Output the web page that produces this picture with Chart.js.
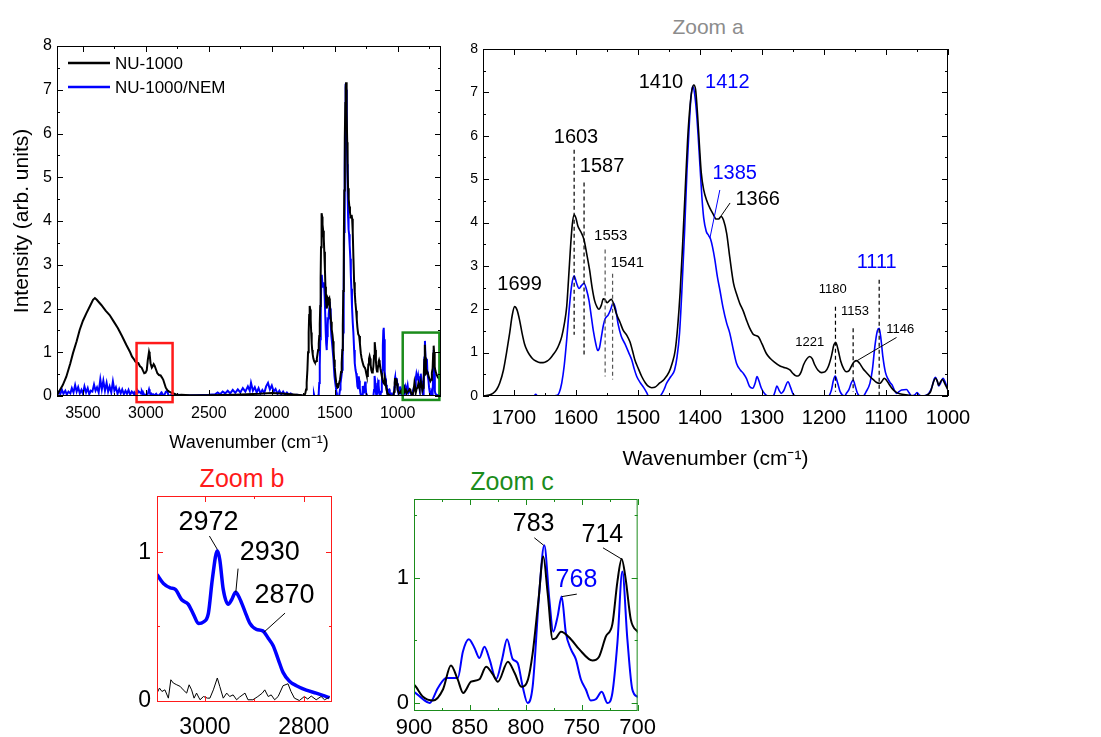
<!DOCTYPE html>
<html>
<head>
<meta charset="utf-8">
<script src="https://cdn.jsdelivr.net/npm/chart.js@4.4.1/dist/chart.umd.min.js"></script>
<style>
  body { margin: 0; background: #fff; width: 1101px; height: 737px; overflow: hidden; position: relative; font-family: "Liberation Sans", Arial, sans-serif; }
  canvas { position: absolute; }
  .ttl { position: absolute; transform: translate(-50%, -50%); white-space: nowrap; }
</style>
</head>
<body>
<div class="ttl" style="left:708px;top:27px;font-size:21px;color:#8c8c8c">Zoom a</div>
<div class="ttl" style="left:242px;top:478px;font-size:25px;color:#ff1a1a">Zoom b</div>
<div class="ttl" style="left:512px;top:481px;font-size:25px;color:#1b8c1b">Zoom c</div>
<canvas id="main" width="455" height="460" style="left:0;top:0"></canvas>
<canvas id="zoomA" width="646" height="480" style="left:455px;top:0"></canvas>
<canvas id="zoomB" width="250" height="267" style="left:100px;top:470px"></canvas>
<canvas id="zoomC" width="300" height="267" style="left:360px;top:470px"></canvas>
<script>
const FONT = '"Liberation Sans", Arial, sans-serif';

// ---- spectra, [wavenumber, intensity] ----
// NU-1000, 3710-3100 (broad O-H band)
const hiBlack = [[3708,0],[3698,0.06],[3660,0.25],[3632,0.44],[3600,0.75],[3579,0.98],[3550,1.25],[3526,1.51],[3500,1.72],[3473,1.89],[3440,2.08],[3420,2.2],[3405,2.24],[3390,2.2],[3354,2.08],[3320,1.95],[3288,1.85],[3255,1.7],[3222,1.55],[3190,1.37],[3156,1.17],[3125,1.0],[3110,0.9]];
// NU-1000/NEM, 3710-3100 (noise)
const hiBlue = [[3705,0.02],[3690,0.1],[3680,0.04],[3668,0.15],[3655,0.05],[3640,0.12],[3628,0.03],[3615,0.1],[3600,0.06],[3588,0.18],[3575,0.08],[3562,0.25],[3550,0.1],[3538,0.2],[3525,0.06],[3512,0.14],[3500,0.05],[3488,0.22],[3475,0.08],[3462,0.18],[3450,0.04],[3438,0.12],[3425,0.1],[3412,0.26],[3400,0.12],[3388,0.2],[3375,0.08],[3362,0.38],[3350,0.15],[3338,0.35],[3325,0.12],[3312,0.3],[3300,0.1],[3288,0.22],[3275,0.08],[3262,0.33],[3250,0.12],[3238,0.2],[3225,0.05],[3212,0.16],[3200,0.06],[3188,0.15],[3175,0.04],[3162,0.12],[3150,0.05],[3138,0.14],[3125,0.03],[3112,0.1]];

// Zoom b, 3100-2745 (thick blue and thin black as drawn in the inset)
const bBlue = [[3097,0.85],[3084,0.79],[3070,0.76],[3060,0.75],[3047,0.68],[3034,0.65],[3023,0.58],[3013,0.52],[3003,0.53],[2993,0.59],[2985,0.82],[2975,1.01],[2970,0.95],[2963,0.75],[2953,0.65],[2946,0.68],[2938,0.73],[2930,0.69],[2919,0.6],[2909,0.52],[2896,0.48],[2883,0.47],[2872,0.42],[2862,0.37],[2852,0.28],[2842,0.19],[2829,0.13],[2815,0.1],[2795,0.07],[2775,0.05],[2748,0.02]];
const bBlack = [[3097,0.05],[3092,0.084],[3087,0.061],[3081,0.072],[3074,0.016],[3069,0.14],[3064,0.118],[3057,0.106],[3050,0.095],[3044,0.072],[3037,0.05],[3032,0.106],[3027,0.072],[3022,0.016],[3017,0.05],[3010,0.005],[3003,0.027],[2995,0.016],[2990,0.016],[2983,0.072],[2975,0.152],[2970,0.095],[2963,0.016],[2956,0.05],[2950,0.027],[2943,0.038],[2936,0.005],[2930,0.023],[2919,0.05],[2913,0.005],[2903,0.005],[2893,0.027],[2884,0.05],[2879,0.072],[2872,0.027],[2866,0.038],[2859,0.005],[2852,0.027],[2842,0.1],[2832,0.113],[2826,0.061],[2819,0.016],[2809,0],[2799,0.027],[2792,0.01],[2785,0.03],[2775,0.005],[2765,0.027],[2758,0.005],[2748,0.023]];

// 2740-1750
const midBlack = [[2720,0.03],[2650,0.02],[2500,0.02],[2300,0.03],[2100,0.05],[2000,0.07],[1900,0.05],[1800,0.03],[1760,0.02]];
const midBlue = [[2740,0.03],[2700,0.01],[2600,0.02],[2500,0.03],[2450,0.04],[2430,0.08],[2410,0.04],[2390,0.1],[2370,0.06],[2350,0.12],[2330,0.06],[2310,0.14],[2290,0.07],[2270,0.15],[2250,0.08],[2230,0.18],[2210,0.1],[2190,0.22],[2175,0.12],[2165,0.3],[2150,0.12],[2135,0.2],[2120,0.08],[2105,0.18],[2090,0.06],[2075,0.14],[2060,0.07],[2045,0.22],[2030,0.3],[2015,0.15],[2000,0.24],[1985,0.1],[1970,0.16],[1955,0.05],[1940,0.12],[1925,0.04],[1910,0.1],[1895,0.03],[1880,0.08],[1865,0.03],[1850,0.06],[1830,0.02],[1800,0.03],[1770,0.01]];

// Zoom a, 1750-1000
const aBlack = [[1750,0],[1740,0.02],[1734,0.06],[1728,0.15],[1723,0.3],[1717,0.6],[1712,1.0],[1707,1.45],[1703,1.85],[1699,2.06],[1695,1.98],[1691,1.75],[1687,1.45],[1683,1.2],[1679,1.05],[1675,0.95],[1670,0.86],[1664,0.8],[1658,0.77],[1653,0.77],[1647,0.8],[1642,0.86],[1637,0.95],[1632,1.05],[1627,1.2],[1623,1.37],[1619,1.65],[1615,2.06],[1612,2.7],[1609,3.4],[1606,3.95],[1603,4.18],[1600,4.1],[1597,3.92],[1592,3.78],[1587,3.6],[1583,3.3],[1578,2.9],[1574,2.5],[1570,2.2],[1566,2.05],[1563,2.0],[1559,2.1],[1556,2.24],[1553,2.22],[1550,2.15],[1546,2.2],[1543,2.23],[1539,2.1],[1535,1.9],[1529,1.7],[1524,1.52],[1518,1.4],[1513,1.25],[1509,1.05],[1505,0.83],[1500,0.65],[1494,0.45],[1488,0.3],[1483,0.22],[1478,0.19],[1473,0.2],[1465,0.3],[1458,0.38],[1450,0.55],[1445,0.75],[1440,1.05],[1436,1.6],[1432,2.4],[1428,3.5],[1424,4.7],[1420,5.9],[1416,6.7],[1413,7.05],[1410,7.17],[1407,7.05],[1404,6.5],[1401,5.8],[1398,5.15],[1394,4.75],[1389,4.5],[1384,4.33],[1379,4.2],[1374,4.08],[1370,4.08],[1366,4.14],[1362,4.05],[1357,3.75],[1352,3.2],[1346,2.6],[1341,2.35],[1336,2.14],[1330,1.95],[1325,1.75],[1320,1.57],[1314,1.42],[1306,1.37],[1300,1.2],[1293,0.98],[1287,0.87],[1280,0.78],[1271,0.69],[1265,0.66],[1260,0.64],[1255,0.6],[1250,0.52],[1246,0.47],[1242,0.46],[1237,0.55],[1233,0.72],[1228,0.85],[1223,0.91],[1219,0.86],[1215,0.72],[1210,0.6],[1204,0.54],[1198,0.56],[1193,0.68],[1188,0.92],[1184,1.18],[1181,1.23],[1177,1.05],[1173,0.8],[1168,0.62],[1164,0.56],[1160,0.58],[1156,0.68],[1152,0.78],[1148,0.82],[1143,0.76],[1137,0.63],[1131,0.53],[1126,0.45],[1120,0.37],[1115,0.31],[1110,0.29],[1106,0.35],[1103,0.41],[1099,0.36],[1095,0.27],[1090,0.17],[1085,0.1],[1078,0.05],[1065,0.02],[1050,0],[1040,0],[1034,0.02],[1028,0.1],[1024,0.3],[1020,0.41],[1017,0.33],[1015,0.25],[1012,0.33],[1009,0.38],[1005,0.28],[1000,0.14]];
const aBlue = [[1750,0],[1700,0],[1668,0],[1665,0.04],[1662,0],[1640,0],[1630,0.02],[1627,0.08],[1623,0.3],[1619,0.7],[1615,1.3],[1611,2.0],[1607,2.55],[1603,2.77],[1599,2.6],[1595,2.48],[1591,2.55],[1587,2.6],[1583,2.45],[1579,2.2],[1575,1.8],[1572,1.5],[1568,1.2],[1565,1.05],[1562,1.12],[1559,1.37],[1556,1.62],[1553,1.78],[1548,1.87],[1544,2.0],[1540,2.15],[1536,2.0],[1532,1.65],[1527,1.38],[1521,1.2],[1515,1.0],[1510,0.83],[1506,0.62],[1502,0.45],[1496,0.3],[1491,0.2],[1486,0.08],[1483,0],[1465,0],[1458,0.15],[1454,0.29],[1447,0.45],[1441,0.6],[1437,0.9],[1433,1.45],[1429,2.5],[1425,3.75],[1421,5.2],[1418,6.06],[1415,6.8],[1412,7.14],[1409,7.0],[1406,6.6],[1403,6.0],[1400,5.3],[1397,4.6],[1394,4.1],[1390,3.8],[1386,3.7],[1383,3.62],[1380,3.45],[1376,3.14],[1372,2.75],[1368,2.45],[1363,2.05],[1357,1.68],[1352,1.45],[1346,1.05],[1341,0.75],[1335,0.6],[1330,0.52],[1325,0.4],[1320,0.22],[1315,0.18],[1311,0.3],[1308,0.45],[1305,0.35],[1301,0.18],[1296,0.06],[1290,0],[1282,0],[1279,0.1],[1276,0.23],[1272,0.12],[1269,0.06],[1265,0.12],[1258,0.33],[1254,0.2],[1250,0.05],[1245,0],[1193,0],[1188,0.14],[1185,0.35],[1182,0.46],[1178,0.3],[1174,0.1],[1170,0.02],[1167,0],[1163,0.08],[1160,0.14],[1156,0.3],[1153,0.37],[1150,0.25],[1146,0.06],[1142,0],[1137,0],[1132,0.1],[1126,0.29],[1122,0.6],[1118,1.14],[1114,1.5],[1111,1.56],[1108,1.3],[1105,0.9],[1101,0.55],[1097,0.4],[1093,0.3],[1090,0.25],[1086,0.12],[1083,0.06],[1079,0.1],[1075,0.14],[1067,0.15],[1063,0.08],[1059,0],[1053,0.03],[1050,0.08],[1046,0.02],[1042,0],[1035,0.02],[1031,0.06],[1026,0.2],[1022,0.4],[1020,0.43],[1017,0.33],[1015,0.23],[1012,0.3],[1008,0.41],[1004,0.3],[1000,0.14]];

// 1000-660 (Zoom c region)
const lowBlack = [[995,0.1],[988,0.06],[980,0.08],[972,0.12],[965,0.06],[958,0.15],[950,0.2],[943,0.1],[935,0.14],[928,0.06],[920,0.1],[912,0.12],[905,0.16],[900,0.147],[892,0.05],[883,0.02],[874,0.11],[867,0.3],[861,0.19],[856,0.08],[849,0.17],[841.5,0.19],[835.5,0.29],[829.6,0.23],[825,0.17],[816,0.33],[810,0.24],[804,0.13],[798,0.19],[794,0.39],[788.6,0.83],[784.4,1.17],[780.5,0.88],[776,0.51],[773,0.52],[768.6,0.57],[759.7,0.51],[752.3,0.43],[740.4,0.34],[734.5,0.37],[728.5,0.53],[722.6,0.63],[718.1,0.97],[714.3,1.15],[710.7,0.99],[706.2,0.67],[700,0.57],[690,0.48],[680,0.42],[670,0.4],[660,0.38]];
const lowBlue = [[994,0.05],[988,0.12],[982,0.22],[976,0.08],[970,0.03],[963,0.18],[957,0.26],[950,0.1],[943,0.05],[936,0.2],[929,0.12],[921,0.24],[914,0.08],[907,0.12],[900,0.09],[892,0.03],[886,0],[878.6,0.12],[871.2,0.2],[860.8,0.2],[856.3,0.41],[851,0.51],[845.9,0.44],[841.5,0.36],[837,0.45],[832.5,0.35],[826.6,0.19],[821.2,0.35],[816.8,0.51],[811.7,0.35],[807.3,0.32],[802.8,0.13],[798.4,0],[793.9,0.13],[788,0.88],[783.5,1.26],[779,0.83],[775.5,0.57],[771.6,0.69],[768,0.85],[764.2,0.56],[759.7,0.43],[755.3,0.35],[750.8,0.19],[746.4,0.11],[741.9,0.02],[737.4,0.03],[732.1,0.09],[727,0],[722.6,0.08],[718.1,0.48],[713.7,1.05],[709.2,0.51],[704.8,0.11],[700,0.05],[690,0.02],[680,0.02],[670,0.04],[660,0.02]];

const seriesNames = ['NU-1000', 'NU-1000/NEM'];

// tick values
const mainXTicks = [3500, 3000, 2500, 2000, 1500, 1000];
const mainYTicks = [0, 1, 2, 3, 4, 5, 6, 7, 8];
const aXTicks = [1700, 1600, 1500, 1400, 1300, 1200, 1100, 1000];
const aYTicks = [0, 1, 2, 3, 4, 5, 6, 7, 8];
const bXTicks = [3000, 2800];
const bYTicks = [0, 1];
const cXTicks = [900, 850, 800, 750, 700];
const cYTicks = [0, 1];

// ---- annotations: [text, wavenumber, intensity, style] ----
const aLabels = [['1699',1691,2.56,'bk'],['1603',1600,5.95,'bk'],['1587',1558,5.3,'bk'],['1553',1544,3.7,'sm'],['1541',1517,3.08,'sm'],['1410',1463,7.23,'bk'],['1412',1356,7.23,'bl'],['1385',1344,5.14,'bl'],['1366',1307,4.52,'bk'],['1221',1223,1.23,'xs'],['1180',1186,2.45,'xs'],['1153',1150,1.95,'xs'],['1146',1077,1.54,'xs'],['1111',1115,3.08,'bl']];
const aDashes = [[1603,5.68,1.41,'k'],[1587,4.92,0.91,'k'],[1553,3.38,0.45,'g'],[1541,2.82,0.38,'g'],[1181.5,2.06,0.1,'k'],[1153,1.56,0.1,'k'],[1111,2.68,0,'k']];
const aLeaders = [[1368,4.75,1384,3.64,'bl'],[1351.5,4.45,1366.6,4.14,'bk'],[1083,1.35,1149.6,0.79,'bk']];
const bLabels = [['2972',2993,1.2,'big'],['2930',2869,1.0,'big'],['2870',2839,0.71,'big']];
const bLeaders = [[2991,1.11,2975,1.02,'bk'],[2933,0.89,2937.6,0.73,'bk'],[2838,0.59,2881,0.46,'bk']];
const cLabels = [['783',793,1.43,'bigc'],['714',731.5,1.34,'bigc'],['768',754.7,0.98,'bigcb']];
const cLeaders = [[792.4,1.32,784,1.26,'bk'],[731,1.24,714.3,1.15,'bk'],[767.8,0.85,754.4,0.87,'bk']];
// inset frames on the overview: [from, to, bottom, top, colour key]
const boxes = [[3074,2788,-0.14,1.21,'red'],[960,669,-0.09,1.45,'grn']];

const styles = {
  bk: {size: 20, color: '#000'}, bl: {size: 20, color: '#0000ff'},
  sm: {size: 15, color: '#000'}, xs: {size: 13, color: '#000'},
  big: {size: 27, color: '#000'},
  bigc: {size: 25, color: '#000'}, bigcb: {size: 25, color: '#0000ff'},
  k: {color: '#000'}, g: {color: '#555'},
  red: {color: '#ff1a1a'}, grn: {color: '#1b8c1b'}
};

const pts = (...arrs) => arrs.flat().map(([x, y]) => ({x, y}));

// frame with inward ticks on all four sides
const frameTicks = {
  id: 'frameTicks',
  afterDraw(chart, args, o) {
    const {ctx, chartArea: a, scales: {x, y}} = chart;
    ctx.save();
    ctx.strokeStyle = o.color;
    ctx.lineWidth = 1;
    ctx.strokeRect(a.left + 0.5, a.top + 0.5, a.right - a.left - 1, a.bottom - a.top - 1);
    ctx.beginPath();
    const near = (v, s) => Math.abs(v / s - Math.round(v / s)) < 1e-6;
    for (let v = Math.ceil(x.min / o.xMinor) * o.xMinor; v <= x.max; v += o.xMinor) {
      const p = Math.round(x.getPixelForValue(v)) + 0.5, len = near(v, o.xMajor) ? 6 : 3;
      ctx.moveTo(p, a.bottom); ctx.lineTo(p, a.bottom - len);
      ctx.moveTo(p, a.top); ctx.lineTo(p, a.top + len);
    }
    for (let v = Math.ceil(y.min / o.yMinor) * o.yMinor; v <= y.max + 1e-9; v += o.yMinor) {
      const p = Math.round(y.getPixelForValue(v)) + 0.5, len = near(v, o.yMajor) ? 6 : 3;
      ctx.moveTo(a.left, p); ctx.lineTo(a.left + len, p);
      ctx.moveTo(a.right, p); ctx.lineTo(a.right - len, p);
    }
    ctx.stroke();
    ctx.restore();
  }
};

// peak labels, dashed guides, leader lines, inset boxes, legend
const notes = {
  id: 'notes',
  afterDatasetsDraw(chart, args, o) {
    const {ctx, scales: {x, y}} = chart;
    const X = v => x.getPixelForValue(v), Y = v => y.getPixelForValue(v);
    ctx.save();
    ctx.lineWidth = 1.2;
    ctx.setLineDash([4, 3]);
    (o.dashes || []).forEach(([v, y0, y1, k]) => {
      ctx.strokeStyle = styles[k].color;
      ctx.beginPath(); ctx.moveTo(X(v), Y(y0)); ctx.lineTo(X(v), Y(y1)); ctx.stroke();
    });
    ctx.setLineDash([]);
    ctx.lineWidth = 1;
    (o.leaders || []).forEach(([v0, y0, v1, y1, k]) => {
      ctx.strokeStyle = styles[k].color;
      ctx.beginPath(); ctx.moveTo(X(v0), Y(y0)); ctx.lineTo(X(v1), Y(y1)); ctx.stroke();
    });
    ctx.lineWidth = 2.5;
    (o.boxes || []).forEach(([v0, v1, y0, y1, k]) => {
      ctx.strokeStyle = styles[k].color;
      ctx.strokeRect(X(v0), Y(y1), X(v1) - X(v0), Y(y0) - Y(y1));
    });
    ctx.textAlign = 'center';
    ctx.textBaseline = 'middle';
    (o.labels || []).forEach(([t, v, yy, k]) => {
      const s = styles[k];
      ctx.font = s.size + 'px ' + FONT;
      ctx.fillStyle = s.color;
      ctx.fillText(t, X(v), Y(yy));
    });
    if (o.legend) {
      const L = o.legend;
      ctx.textAlign = 'left';
      ctx.font = L.size + 'px ' + FONT;
      chart.data.datasets.forEach((ds, i) => {
        const yy = L.y + i * L.dy;
        ctx.strokeStyle = ds.borderColor;
        ctx.lineWidth = 2.5;
        ctx.beginPath(); ctx.moveTo(L.x, yy); ctx.lineTo(L.x + L.len, yy); ctx.stroke();
        ctx.fillStyle = '#000';
        ctx.fillText(ds.label, L.x + L.len + 5, yy + 1);
      });
    }
    ctx.restore();
  }
};

function axis(o) {
  return {
    type: 'linear', min: o.min, max: o.max, reverse: !!o.reverse,
    grid: {display: false, drawTicks: false},
    border: {display: false},
    ticks: {
      autoSkip: false, maxRotation: 0,
      color: '#000', padding: o.pad, font: {family: FONT, size: o.font},
      callback: v => v
    },
    afterBuildTicks: s => { s.ticks = o.ticks.map(v => ({value: v})); },
    title: o.title ? {display: true, text: o.title, color: '#000', font: {family: FONT, size: o.titleSize}, padding: o.titlePad} : {display: false},
    afterFit: s => { if (o.width != null) s.width = o.width; if (o.height != null) s.height = o.height; }
  };
}

function line(data, color, width, smooth, label) {
  return {
    label, data, borderColor: color, backgroundColor: color, borderWidth: width,
    pointRadius: 0, fill: false,
    cubicInterpolationMode: smooth ? 'monotone' : 'default', tension: 0
  };
}

function make(id, datasets, cfg) {
  return new Chart(document.getElementById(id), {
    type: 'line',
    data: {datasets},
    options: {
      responsive: false, animation: false, devicePixelRatio: 1,
      layout: {padding: cfg.padding},
      scales: {x: axis(cfg.x), y: axis(cfg.y)},
      plugins: {
        legend: {display: false},
        tooltip: {enabled: false},
        frameTicks: cfg.frame,
        notes: cfg.notes || {}
      }
    },
    plugins: [frameTicks, notes]
  });
}

Chart.defaults.font.family = FONT;

// overview
const mainBlack = pts(hiBlack, bBlue, midBlack, aBlack, lowBlack);
const mainBlue = pts(hiBlue, bBlack, midBlue, aBlue, lowBlue);
make('main', [
  line(mainBlack, '#000000', 2, false, seriesNames[0]),
  line(mainBlue, '#0000ff', 2, false, seriesNames[1])
], {
  padding: {left: 0, top: 46, right: 14, bottom: 0},
  x: {min: 656, max: 3706, reverse: true, ticks: mainXTicks, pad: 8, font: 16, height: 64,
      title: 'Wavenumber (cm\u207B\u00B9)', titleSize: 18, titlePad: {top: 0, bottom: 6}},
  y: {min: 0, max: 8, ticks: mainYTicks, pad: 5, font: 16, width: 57,
      title: 'Intensity (arb. units)', titleSize: 21, titlePad: {top: 10, bottom: 0}},
  frame: {color: '#000', xMajor: 500, xMinor: 250, yMajor: 1, yMinor: 0.5},
  notes: {boxes, legend: {x: 68, y: 63, dy: 24, len: 42, size: 17}}
});

// zoom a
make('zoomA', [
  line(pts(aBlack), '#000000', 1.6, true, seriesNames[0]),
  line(pts(aBlue), '#0000ff', 1.6, true, seriesNames[1])
], {
  padding: {left: 0, top: 49, right: 153, bottom: 0},
  x: {min: 1000, max: 1750, reverse: true, ticks: aXTicks, pad: 10, font: 20, height: 84,
      title: 'Wavenumber (cm\u207B\u00B9)', titleSize: 21, titlePad: {top: 0, bottom: 8}},
  y: {min: 0, max: 8, ticks: aYTicks, pad: 5, font: 14, width: 28},
  frame: {color: '#000', xMajor: 100, xMinor: 50, yMajor: 1, yMinor: 0.5},
  notes: {labels: aLabels, dashes: aDashes, leaders: aLeaders}
});

// zoom b
make('zoomB', [
  line(pts(bBlack), '#000000', 1, false, seriesNames[0]),
  line(pts(bBlue), '#0000ff', 3.5, true, seriesNames[1])
], {
  padding: {left: 0, top: 26, right: 18, bottom: 0},
  x: {min: 2743, max: 3097, reverse: true, ticks: bXTicks, pad: 12, font: 23, height: 35},
  y: {min: -0.01, max: 1.38, ticks: bYTicks, pad: 6, font: 23, width: 57},
  frame: {color: '#ff1a1a', xMajor: 200, xMinor: 100, yMajor: 1, yMinor: 0.5},
  notes: {labels: bLabels, leaders: bLeaders}
});

// zoom c
make('zoomC', [
  line(pts(lowBlack), '#000000', 2, true, seriesNames[0]),
  line(pts(lowBlue), '#0000ff', 2, true, seriesNames[1])
], {
  padding: {left: 0, top: 29, right: 21, bottom: 0},
  x: {min: 700, max: 900, reverse: true, ticks: cXTicks, pad: 4, font: 22, height: 26},
  y: {min: -0.064, max: 1.63, ticks: cYTicks, pad: 5, font: 22, width: 54},
  frame: {color: '#1b8c1b', xMajor: 50, xMinor: 25, yMajor: 1, yMinor: 0.5},
  notes: {labels: cLabels, leaders: cLeaders}
});
</script>
</body>
</html>
